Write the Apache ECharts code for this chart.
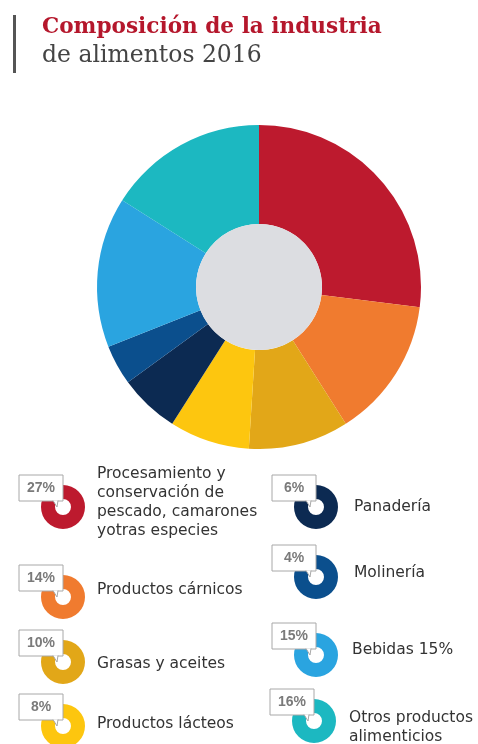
<!DOCTYPE html>
<html><head><meta charset="utf-8">
<script src="https://cdn.jsdelivr.net/npm/echarts@6/dist/echarts.min.js"></script>
<style>html,body{margin:0;padding:0;background:#fff}#c{width:478px;height:744px}</style>
</head><body><div id="c"></div>
<script>
const categories = ['Procesamiento y conservación de pescado, camarones y otras especies','Productos cárnicos','Grasas y aceites','Productos lácteos','Panadería','Molinería','Bebidas','Otros productos alimenticios'];
const values = [27, 14, 10, 8, 6, 4, 15, 16];
const percentLabels = ['27%', '14%', '10%', '8%', '6%', '4%', '15%', '16%'];
const legendTexts = ['Procesamiento y\nconservación de\npescado, camarones\nyotras especies', 'Productos cárnicos', 'Grasas y aceites', 'Productos lácteos', 'Panadería', 'Molinería', 'Bebidas 15%', 'Otros productos\nalimenticios'];
const colors = ['#bd1a2e', '#f07b2f', '#e2a718', '#fdc60f', '#0c2a52', '#0b4f8d', '#2aa4e0', '#1cb8c1'];
const titleLine1 = 'Composición de la industria';
const titleLine2 = 'de alimentos 2016';

// layout of legend icons (positions only)
const iconPos = [[63,507],[63,597],[63,662],[63,726],[316,507],[316,577],[316,655],[314,721]];
const textPos = [[97,502],[97,590],[97,664],[97,724],[354,507],[354,573],[352,650],[349,727]];

const chart = echarts.init(document.getElementById('c'), null, {renderer:'canvas'});
const series = [
  {
    type: 'pie', center: [259, 287], radius: [63, 162], startAngle: 90, clockwise: true,
    label: {show: false}, labelLine: {show: false}, silent: true, animation: false,
    itemStyle: {borderWidth: 0},
    data: categories.map((c, i) => ({name: c, value: values[i], itemStyle: {color: colors[i]}}))
  },
  {
    type: 'pie', center: [259, 287], radius: [0, 63], silent: true, animation: false,
    label: {show: false}, labelLine: {show: false},
    data: [{value: 1, itemStyle: {color: '#dcdde1'}}]
  }
];
categories.forEach((c, i) => {
  series.push({
    type: 'pie', center: iconPos[i], radius: [8, 22], silent: true, animation: false,
    label: {show: false}, labelLine: {show: false}, z: 2,
    data: [{name: c, value: values[i], itemStyle: {color: colors[i]}}]
  });
});

const graphics = [
  {type: 'rect', shape: {x: 13, y: 15, width: 3, height: 58}, style: {fill: '#555'}},
  {type: 'text', x: 42, y: 16, style: {text: titleLine1, font: 'bold 21.6px "DejaVu Serif"', fill: '#b5172c'}},
  {type: 'text', x: 42, y: 44, style: {text: titleLine2, font: '23.5px "DejaVu Serif"', fill: '#444'}}
];
iconPos.forEach((p, i) => {
  const cx = p[0], cy = p[1];
  graphics.push({type: 'rect', z: 10, shape: {x: cx - 44, y: cy - 32, width: 44, height: 26}, style: {fill: '#fff', stroke: '#a8a8a8', lineWidth: 1}});
  graphics.push({type: 'polyline', z: 11, shape: {points: [[cx - 10, cy - 6.5], [cx - 6, cy], [cx - 5, cy - 6.5]]}, style: {fill: '#fff', stroke: '#a8a8a8', lineWidth: 1}});
  graphics.push({type: 'text', z: 12, x: cx - 22, y: cy - 19, style: {text: percentLabels[i], font: 'bold 14px "Liberation Sans Narrow", "Liberation Sans"', fill: '#7a7a7a', align: 'center', verticalAlign: 'middle'}});
  graphics.push({type: 'text', z: 12, x: textPos[i][0], y: textPos[i][1], style: {text: legendTexts[i], font: '15.5px "DejaVu Sans"', fill: '#333', verticalAlign: 'middle', lineHeight: 19}});
});

chart.setOption({backgroundColor: '#fff', animation: false, series: series, graphic: graphics});
</script></body></html>
